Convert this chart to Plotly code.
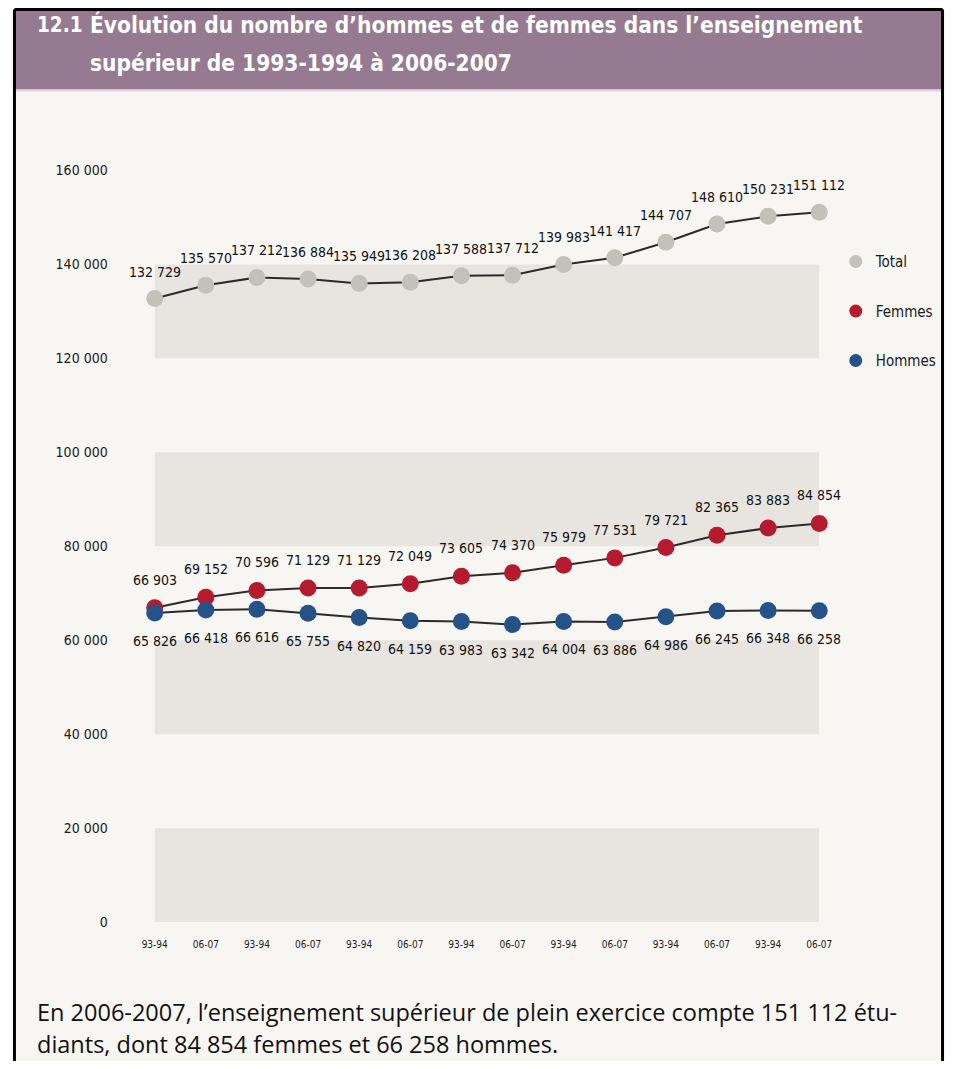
import plotly.graph_objects as go

W, H = 957, 1069

periods = ["93-94", "06-07", "93-94", "06-07", "93-94", "06-07", "93-94",
           "06-07", "93-94", "06-07", "93-94", "06-07", "93-94", "06-07"]
total = [132729, 135570, 137212, 136884, 135949, 136208, 137588,
         137712, 139983, 141417, 144707, 148610, 150231, 151112]
femmes = [66903, 69152, 70596, 71129, 71129, 72049, 73605,
          74370, 75979, 77531, 79721, 82365, 83883, 84854]
hommes = [65826, 66418, 66616, 65755, 64820, 64159, 63983,
          63342, 64004, 63886, 64986, 66245, 66348, 66258]
y_ticks = [0, 20000, 40000, 60000, 80000, 100000, 120000, 140000, 160000]
bands = [(0, 20000), (40000, 60000), (80000, 100000), (120000, 140000)]

C_TOTAL = "#c4c0ba"
C_FEM = "#b51a2e"
C_HOM = "#26528a"
LINE = "#2b2b2b"
COND = "DejaVu Sans Condensed, DejaVu Sans, sans-serif"

# the photographed page is shown slightly reduced with a small border;
# layout positions are expressed in target picture pixels and mapped back
SX, OX = 0.9735, 13.2
SY, OY = 0.9867, 6.3


def px(r):
    return min(max((r - OX) / SX, 0), W)


def py(r):
    return min(max((r - OY) / SY, 0), H)


def fx(r):
    return px(r) / W


def fy(r):
    return 1 - py(r) / H


def fxp(p):
    return p / W


def fyp(p):
    return 1 - p / H


def fmt(v):
    return f"{v:,}".replace(",", " ")


x = list(range(len(periods)))

fig = go.Figure()
for name, vals, col in [("Total", total, C_TOTAL), ("Femmes", femmes, C_FEM), ("Hommes", hommes, C_HOM)]:
    fig.add_trace(go.Scatter(
        x=x, y=vals, mode="lines+markers", name=name, showlegend=False,
        line=dict(color=LINE, width=2),
        marker=dict(color=col, size=17, line=dict(width=0)),
        cliponaxis=False, hoverinfo="skip",
    ))
for name, col in [("Total", C_TOTAL), ("Femmes", C_FEM), ("Hommes", C_HOM)]:
    fig.add_trace(go.Scatter(
        x=[None], y=[None], mode="markers", name=name, legendgroup=name,
        marker=dict(color=col, size=13),
    ))

annotations = []
for series, shift in [(total, 27), (femmes, 28), (hommes, -28)]:
    for xi, v in zip(x, series):
        annotations.append(dict(
            x=xi, y=v, xref="x", yref="y", text=fmt(v), showarrow=False,
            yshift=shift, font=dict(family=COND, size=14, color="#111111"),
        ))

# title
title_font = dict(family=COND, size=22.5, color="white")
annotations.append(dict(
    x=fx(35), y=fy(23), xref="paper", yref="paper", xanchor="left", yanchor="middle",
    showarrow=False, text="<b>12.1</b>", font=dict(family=COND, size=20.5, color="white"),
))
annotations.append(dict(
    x=fx(88), y=fy(23), xref="paper", yref="paper", xanchor="left", yanchor="middle",
    showarrow=False, text="<b>Évolution du nombre d’hommes et de femmes dans l’enseignement</b>",
    font=title_font,
))
annotations.append(dict(
    x=fx(88), y=fy(61), xref="paper", yref="paper", xanchor="left", yanchor="middle",
    showarrow=False, text="<b>supérieur de 1993-1994 à 2006-2007</b>", font=title_font,
))
# footer
foot_font = dict(family="Open Sans, Noto Sans, sans-serif", size=23.5, color="#111111")
annotations.append(dict(
    x=fx(35), y=fy(1012), xref="paper", yref="paper", xanchor="left", yanchor="middle",
    showarrow=False,
    text="En 2006-2007, l’enseignement supérieur de plein exercice compte 151 112 étu-",
    font=foot_font,
))
annotations.append(dict(
    x=fx(35), y=fy(1044), xref="paper", yref="paper", xanchor="left", yanchor="middle",
    showarrow=False, text="diants, dont 84 854 femmes et 66 258 hommes.", font=foot_font,
))

shapes = []
for y0, y1 in bands:
    shapes.append(dict(type="rect", xref="x", yref="y", x0=0, x1=13, y0=y0, y1=y1,
                       fillcolor="#e8e5e1", line=dict(width=0), layer="below"))
# page background inside frame
shapes.append(dict(type="rect", xref="paper", yref="paper", x0=fxp(1), x1=fxp(956),
                   y0=0, y1=fyp(1), fillcolor="#f8f6f3", line=dict(width=0), layer="below"))
# title bar
shapes.append(dict(type="rect", xref="paper", yref="paper", x0=fxp(1), x1=fxp(956),
                   y0=fy(88), y1=fyp(1), fillcolor="#957a92", line=dict(width=0), layer="below"))
shapes.append(dict(type="line", xref="paper", yref="paper", x0=fxp(1), x1=fxp(956),
                   y0=fy(89), y1=fy(89), line=dict(color="#e7cfe0", width=2), layer="below"))
# frame
for (x0, y0, x1, y1) in [(1.5, 1.5, 955.5, 1.5), (1.5, 1.5, 1.5, 1069), (955.5, 1.5, 955.5, 1069)]:
    shapes.append(dict(type="line", xref="paper", yref="paper", x0=fxp(x0), x1=fxp(x1),
                       y0=fyp(y0), y1=fyp(y1), line=dict(color="black", width=3)))

fig.update_layout(
    width=W, height=H,
    margin=dict(l=0, r=0, t=0, b=0),
    paper_bgcolor="white", plot_bgcolor="rgba(0,0,0,0)",
    separators=", ",
    showlegend=True,
    legend=dict(x=fxp(px(855) - 19), y=fyp(py(262) - 18.3), xanchor="left", yanchor="top",
                bgcolor="rgba(0,0,0,0)", tracegroupgap=27, itemwidth=30,
                font=dict(family=COND, size=15, color="#1a1a1a")),
    xaxis=dict(domain=[fx(155), fx(820)], range=[0, 13], tickmode="array",
               tickvals=x, ticktext=periods, showgrid=False, zeroline=False,
               showline=False, ticks="", ticklabelstandoff=15, fixedrange=True,
               tickfont=dict(family=COND, size=10, color="#1a1a1a")),
    yaxis=dict(domain=[fy(922), fy(169)], range=[0, 160000], tickmode="array",
               tickvals=y_ticks, ticktext=[fmt(v) for v in y_ticks],
               showgrid=False, zeroline=False, showline=False, ticks="",
               ticklabelstandoff=46, fixedrange=True,
               tickfont=dict(family=COND, size=14, color="#1a1a1a")),
    shapes=shapes,
    annotations=annotations,
)

fig.write_html(
    "out.html",
    config={"displayModeBar": False},
    post_script="document.body.style.margin='0';document.body.style.overflow='hidden';",
)
